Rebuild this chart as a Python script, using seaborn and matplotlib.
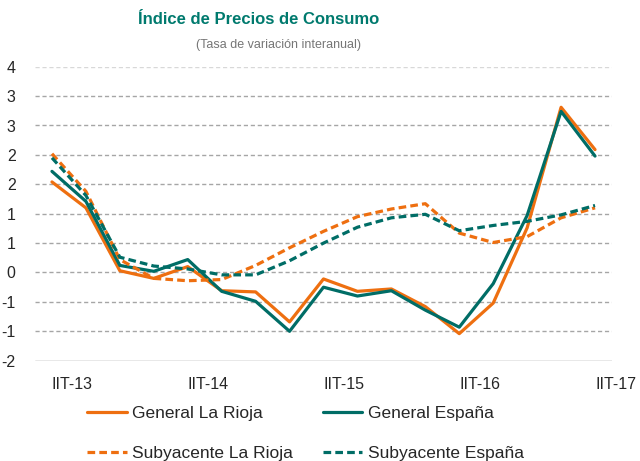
import numpy as np
import pandas as pd
import matplotlib
matplotlib.use('Agg')
import matplotlib.pyplot as plt
import seaborn as sns
from matplotlib import font_manager
from matplotlib.lines import Line2D

# --- datos ---
trimestres = ['IIT-13', 'IIIT-13', 'IVT-13', 'IT-14', 'IIT-14', 'IIIT-14', 'IVT-14', 'IT-15',
              'IIT-15', 'IIIT-15', 'IVT-15', 'IT-16', 'IIT-16', 'IIIT-16', 'IVT-16', 'IT-17', 'IIT-17']
general_rioja = [1.54, 1.10, 0.03, -0.10, 0.10, -0.31, -0.33, -0.84, -0.11, -0.32, -0.28, -0.58,
                 -1.04, -0.52, 0.76, 2.81, 2.09]
general_espana = [1.72, 1.21, 0.12, 0.02, 0.22, -0.32, -0.49, -1.00, -0.25, -0.40, -0.31, -0.64,
                  -0.93, -0.19, 0.97, 2.74, 1.98]
subyacente_rioja = [2.02, 1.38, 0.22, -0.10, -0.14, -0.12, 0.12, 0.42, 0.70, 0.95, 1.08, 1.17,
                    0.67, 0.51, 0.61, 0.93, 1.10]
subyacente_espana = [1.95, 1.31, 0.26, 0.11, 0.06, -0.04, -0.04, 0.20, 0.50, 0.77, 0.93, 0.99,
                     0.71, 0.80, 0.87, 0.98, 1.14]
series = ['General La Rioja', 'General España', 'Subyacente La Rioja', 'Subyacente España']
etiquetas_x = ['IIT-13', 'IIT-14', 'IIT-15', 'IIT-16', 'IIT-17']
ticks_y = [-1.5, -1.0, -0.5, 0.0, 0.5, 1.0, 1.5, 2.0, 2.5, 3.0, 3.5]
etiquetas_y = ['-2', '-1', '-1', '0', '1', '1', '2', '2', '3', '3', '4']

NARANJA = '#EE6F10'
VERDE = '#006D66'

sns.set_style('white')
nombres = {f.name for f in font_manager.fontManager.ttflist}
fuente = 'Liberation Sans' if 'Liberation Sans' in nombres else 'DejaVu Sans'
plt.rcParams['font.family'] = [fuente, 'DejaVu Sans']

df = pd.DataFrame({
    'idx': list(range(len(trimestres))) * 4,
    'valor': general_rioja + general_espana + subyacente_rioja + subyacente_espana,
    'serie': sum([[s] * len(trimestres) for s in series], []),
})

fig = plt.figure(figsize=(6.4, 4.61), dpi=100)
ax = fig.add_axes([35 / 640, 1 - 360.7 / 461, 577 / 640, 294 / 461])

# rejilla
for t in ticks_y[1:]:
    c = '#D8D8D8' if t == 3.5 else '#A6A6A6'
    ax.axhline(t, color=c, lw=1.0, ls=(0, (3, 2)), zorder=0)
ax.axhline(-1.5, color='#8C8C8C', lw=1.0, zorder=0)

paleta = {series[0]: NARANJA, series[1]: VERDE, series[2]: NARANJA, series[3]: VERDE}
guiones = {series[0]: '', series[1]: '', series[2]: (2.4, 1.3), series[3]: (2.4, 1.3)}
sns.lineplot(data=df, x='idx', y='valor', hue='serie', style='serie', hue_order=series,
             style_order=series, palette=paleta, dashes=guiones, linewidth=2.3,
             legend=False, ax=ax)

ax.set_xlim(-0.5, len(trimestres) - 0.5)
ax.set_ylim(-1.5, 3.5)
ax.set_yticks(ticks_y)
ax.set_yticklabels(etiquetas_y, fontsize=11.5)
ax.set_xticks([0, 4, 8, 12, 16])
ax.set_xticklabels(etiquetas_x, fontsize=11.5, ha='left')
ax.tick_params(axis='both', length=0)
ax.tick_params(axis='x', pad=12)
ax.tick_params(axis='y', pad=14)
ax.set_xlabel('')
ax.set_ylabel('')
for s in ax.spines.values():
    s.set_visible(False)

# leyenda
estilos = {series[0]: '-', series[1]: '-', series[2]: (0, (2.4, 1.3)), series[3]: (0, (2.4, 1.3))}
orden = [series[0], series[2], series[1], series[3]]
handles = [Line2D([], [], color=paleta[s], lw=2.3, ls=estilos[s]) for s in orden]
fig.legend(handles, orden, ncol=2, loc='upper left', bbox_to_anchor=(87 / 640, 1 - 406 / 461),
           frameon=False, fontsize=12.5, handlelength=2.3, handletextpad=0.3,
           labelspacing=1.4, columnspacing=1.7, borderpad=0, borderaxespad=0)

fig.text(259 / 640, 1 - 20 / 461, 'Índice de Precios de Consumo', ha='center', va='center',
         fontsize=12, fontweight='bold', color='#007A6E')
fig.text(278 / 640, 1 - 45 / 461, '(Tasa de variación interanual)', ha='center', va='center',
         fontsize=9, color='#767676')

fig.savefig('out.png', dpi=100)
